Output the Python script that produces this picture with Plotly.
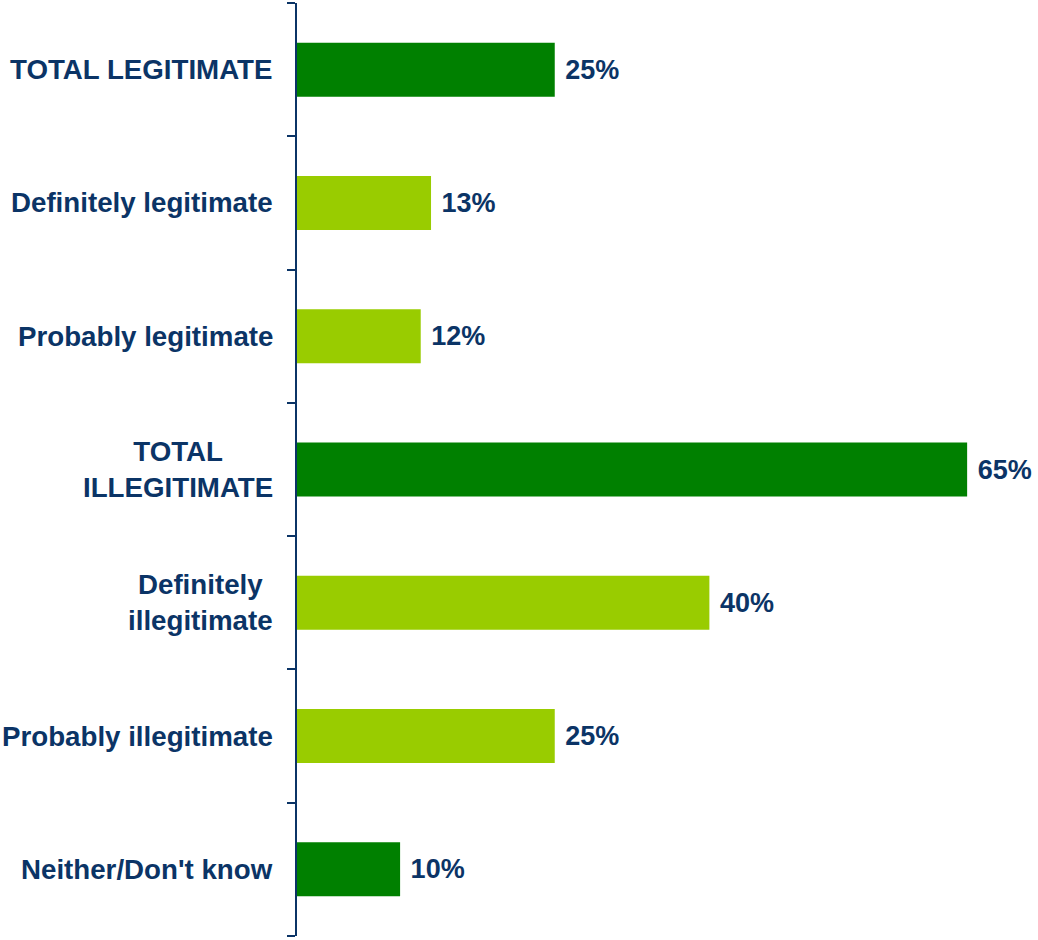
import plotly.graph_objects as go

categories = ["TOTAL LEGITIMATE", "Definitely legitimate", "Probably legitimate",
              "TOTAL ILLEGITIMATE", "Definitely illegitimate", "Probably illegitimate",
              "Neither/Don't know"]
label_text = ["TOTAL LEGITIMATE", "Definitely legitimate", "Probably legitimate",
              "TOTAL<br>ILLEGITIMATE", "Definitely<br>illegitimate", "Probably illegitimate",
              "Neither/Don't know"]
values = [25, 13, 12, 65, 40, 25, 10]
is_total = [True, False, False, True, False, False, True]

DARK = "#008000"
LIGHT = "#99CC00"
NAVY = "#0B3466"
FONT = "Arial, Liberation Sans, sans-serif"

colors = [DARK if t else LIGHT for t in is_total]

fig = go.Figure(go.Bar(
    y=categories,
    x=values,
    orientation="h",
    marker=dict(color=colors, line=dict(width=0)),
    text=["<b>\u00a0" + f"{v}%</b>" for v in values],
    textposition="outside",
    textfont=dict(family=FONT, size=27, color=NAVY),
    constraintext="none",
    cliponaxis=False,
    hoverinfo="skip",
))

for cat, lab in zip(categories, label_text):
    fig.add_annotation(
        x=0, xref="paper", y=cat, yref="y",
        text="<b>" + lab + "</b>", showarrow=False,
        xanchor="right", yanchor="middle", align="center",
        xshift=-22,
        font=dict(family=FONT, size=27.7, color=NAVY),
    )

fig.update_layout(
    width=1038, height=940,
    margin=dict(l=297, r=9, t=3, b=4),
    plot_bgcolor="white", paper_bgcolor="white",
    bargap=0.595,
    showlegend=False,
    xaxis=dict(range=[0, 71], visible=False, showgrid=False, zeroline=False),
    yaxis=dict(
        categoryorder="array", categoryarray=categories[::-1],
        range=[-0.5, 6.5],
        showticklabels=False,
        showline=True, linecolor=NAVY, linewidth=2,
        ticks="outside", tickson="boundaries", ticklen=8,
        tickcolor=NAVY, tickwidth=2,
        showgrid=False, zeroline=False,
    ),
)

fig.write_html("out.html", config={"displayModeBar": False},
               post_script="document.body.style.margin='0';")
